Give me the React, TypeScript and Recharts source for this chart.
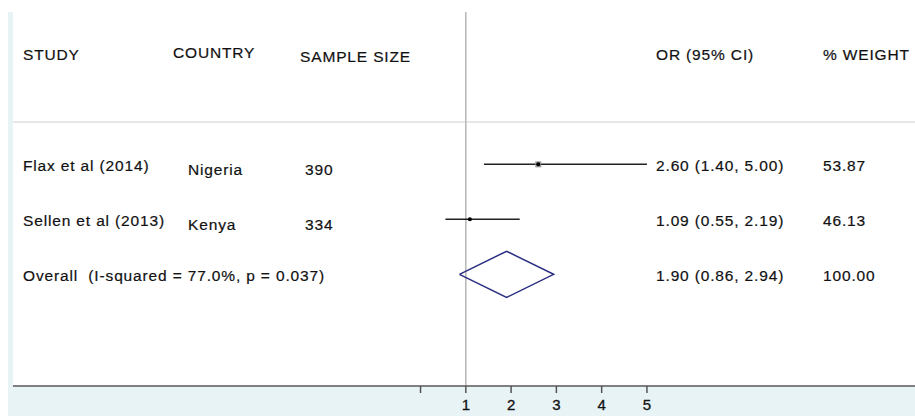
import React from 'react';
import { ScatterChart, Scatter, XAxis, YAxis, ErrorBar, ReferenceLine } from 'recharts';

const headers = ['STUDY', 'COUNTRY', 'SAMPLE SIZE', 'OR (95% CI)', '% WEIGHT'];
const studies = ['Flax et al (2014)', 'Sellen et al (2013)'];
const countries = ['Nigeria', 'Kenya'];
const sampleSizes = [390, 334];
const oddsRatios = [2.6, 1.09];
const ciLower = [1.4, 0.55];
const ciUpper = [5.0, 2.19];
const weights = [53.87, 46.13];

const overallLabel = 'Overall  (I-squared = 77.0%, p = 0.037)';
const overallOR = 1.9;
const overallLower = 0.86;
const overallUpper = 2.94;
const overallWeight = 100;

const xTicks = [0, 1, 2, 3, 4, 5];

const FONT = '"Liberation Sans", Arial, sans-serif';
const TEXT = '#111';

const fmt = (v: number) => v.toFixed(2);

// row index -> y value, header sits two rows above the first study
const studyRows = studies.map((s, i) => ({
  x: oddsRatios[i],
  y: i,
  err: [oddsRatios[i] - ciLower[i], ciUpper[i] - oddsRatios[i]],
}));
const overallRow = studies.length;

const textRows = [
  { x: 1, y: -2, kind: 'header' },
  ...studies.map((s, i) => ({
    x: 1,
    y: i,
    kind: 'study',
    cells: [s, countries[i], String(sampleSizes[i]), `${fmt(oddsRatios[i])} (${fmt(ciLower[i])}, ${fmt(ciUpper[i])})`, fmt(weights[i])],
  })),
  {
    x: 1,
    y: overallRow,
    kind: 'overall',
    cells: [overallLabel, '', '', `${fmt(overallOR)} (${fmt(overallLower)}, ${fmt(overallUpper)})`, fmt(overallWeight)],
  },
];

const diamondH = 0.42;
const diamond = [
  { x: overallLower, y: overallRow },
  { x: overallOR, y: overallRow - diamondH },
  { x: overallUpper, y: overallRow },
  { x: overallOR, y: overallRow + diamondH },
  { x: overallLower, y: overallRow },
];

const txt = {
  fill: TEXT,
  stroke: TEXT,
  strokeWidth: 0.2,
  fontSize: 15.5,
  fontFamily: FONT,
  letterSpacing: 0.85,
  dominantBaseline: 'central' as const,
  style: { whiteSpace: 'pre' as const },
};

const RowText = (props: any) => {
  const { cy, payload } = props;
  if (payload.kind === 'header') {
    return (
      <g>
        <text x={23} y={cy} {...txt}>{headers[0]}</text>
        <text x={173} y={cy - 2} {...txt}>{headers[1]}</text>
        <text x={300} y={cy + 2} {...txt}>{headers[2]}</text>
        <text x={656} y={cy} {...txt}>{headers[3]}</text>
        <text x={823} y={cy} {...txt}>{headers[4]}</text>
      </g>
    );
  }
  const c = payload.cells;
  return (
    <g>
      <text x={23} y={cy + 1} {...txt}>{c[0]}</text>
      {c[1] && <text x={188} y={cy + 5} {...txt}>{c[1]}</text>}
      {c[2] && <text x={305} y={cy + 5} {...txt}>{c[2]}</text>}
      <text x={656} y={cy + 1} {...txt}>{c[3]}</text>
      <text x={823} y={cy + 1} {...txt}>{c[4]}</text>
    </g>
  );
};

const PointBox = (props: any) => {
  const { cx, cy, payload } = props;
  const s = payload.y === 0 ? 6 : 3;
  return (
    <g>
      <rect x={cx - s / 2} y={cy - s / 2} width={s} height={s} fill="#999" />
      <circle cx={cx} cy={cy} r={2} fill="#000" />
    </g>
  );
};

export default function App() {
  return (
    <div style={{ position: 'absolute', left: 0, top: 0, width: 915, height: 416, background: '#fff' }}>
      <div style={{ position: 'absolute', left: 8, top: 12, width: 5, height: 404, background: '#e8f3f6' }} />
      <div style={{ position: 'absolute', left: 8, top: 387, width: 907, height: 29, background: '#e8f3f6' }} />
      <div style={{ position: 'absolute', left: 0, top: 0 }}>
        <ScatterChart width={915} height={416} margin={{ top: 12, right: 0, bottom: 0, left: 13 }}>
          <XAxis
            type="number"
            dataKey="x"
            domain={[-9, 10.92]}
            ticks={xTicks}
            tickFormatter={(v: number) => (v === 0 ? '' : String(v))}
            height={30}
            tickSize={7}
            tickMargin={6}
            axisLine={{ stroke: '#555', strokeWidth: 1.5 }}
            tickLine={{ stroke: '#555', strokeWidth: 1.5 }}
            tick={{ fill: TEXT, stroke: TEXT, strokeWidth: 0.3, fontSize: 15, fontFamily: FONT }}
            allowDataOverflow
          />
          <YAxis type="number" dataKey="y" domain={[-2.77, 4.03]} reversed hide allowDataOverflow />
          <ReferenceLine y={-0.77} stroke="#d0d0d0" strokeWidth={1.2} />
          <ReferenceLine x={1} stroke="#b5b5b5" strokeWidth={1.5} />
          <Scatter data={textRows} shape={RowText} isAnimationActive={false} />
          <Scatter data={studyRows} shape={PointBox} isAnimationActive={false}>
            <ErrorBar dataKey="err" direction="x" width={0} stroke="#222" strokeWidth={1.5} />
          </Scatter>
          <Scatter
            data={diamond}
            line={{ stroke: '#2a2e80', strokeWidth: 1.5 }}
            lineType="joint"
            shape={() => <g />}
            isAnimationActive={false}
          />
        </ScatterChart>
      </div>
    </div>
  );
}
